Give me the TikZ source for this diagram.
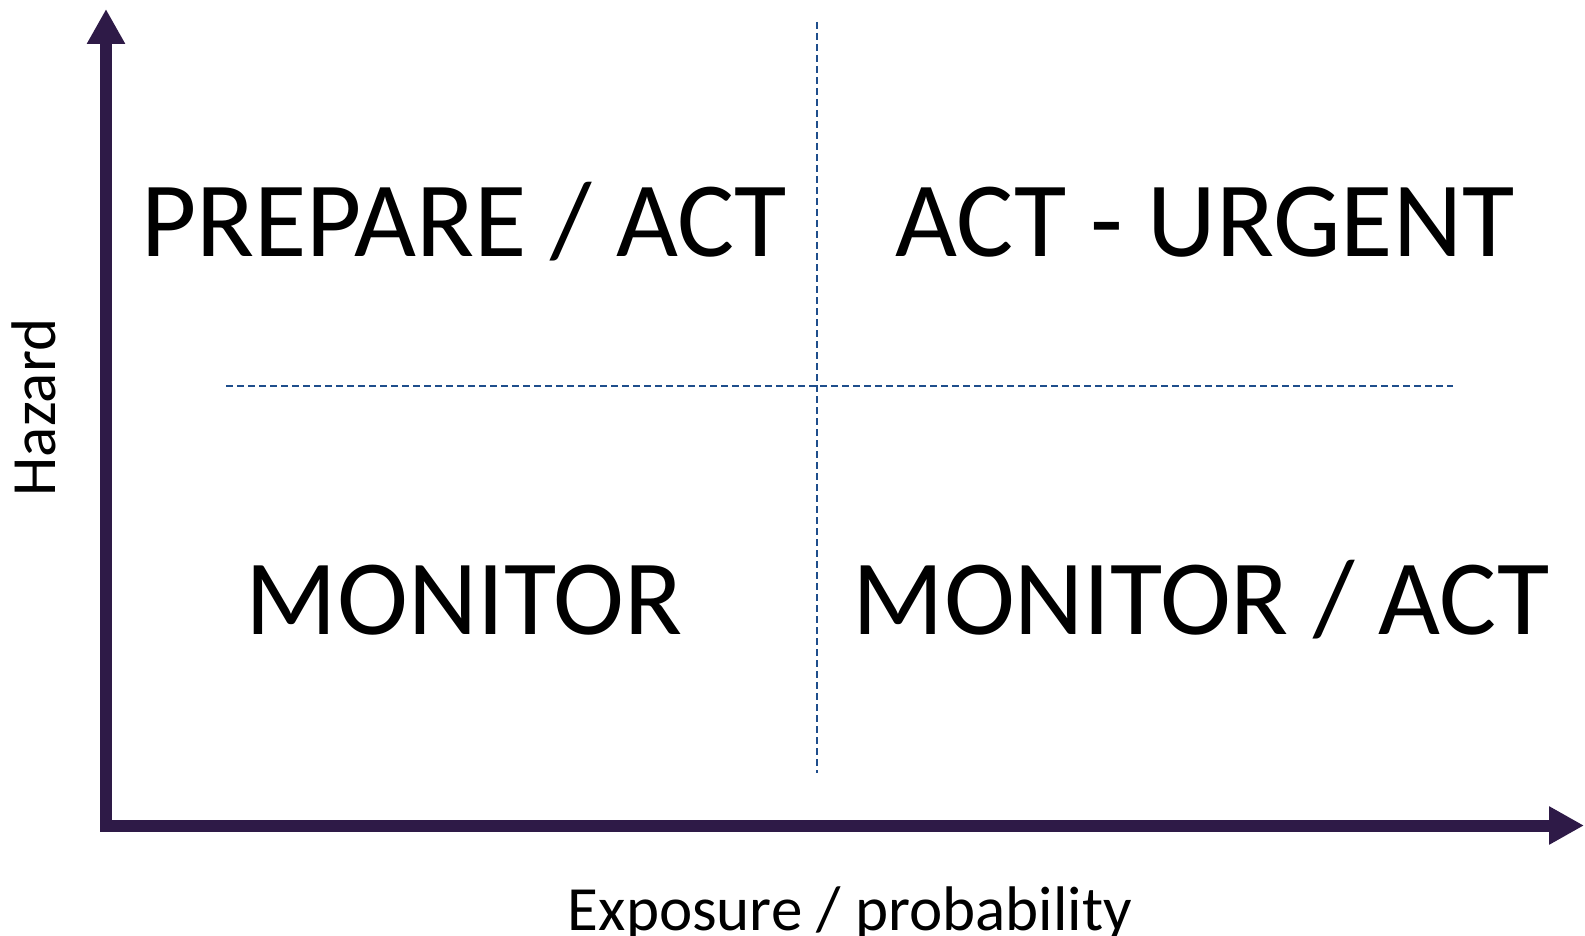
\documentclass[tikz,border=0pt]{standalone}
\usepackage{fontspec}
\setmainfont{Carlito}
\usetikzlibrary{arrows.meta}
\definecolor{axiscol}{RGB}{46,26,71}
\definecolor{dashcol}{RGB}{31,78,140}
\tikzset{
  axis/.style={draw=axiscol, line width=12pt, -{Triangle[length=35pt,width=36pt]}},
  divider/.style={draw=dashcol, line width=1.6pt, dash pattern=on 7pt off 4pt},
  big/.style={font=\fontsize{107}{107}\selectfont, anchor=base, inner sep=0pt},
  lab/.style={font=\fontsize{63}{63}\selectfont, anchor=base, inner sep=0pt}
}
\begin{document}
\begin{tikzpicture}[x=1pt,y=-1pt]
\useasboundingbox (0,0) rectangle (1585,936);
\coordinate (yb) at (106,831);
\coordinate (yt) at (106,9);
\coordinate (xl) at (100,825.5);
\coordinate (xr) at (1584,825.5);
\coordinate (vt) at (817,22);
\coordinate (vb) at (817,773);
\coordinate (hl) at (226,386);
\coordinate (hr) at (1453,386);
\draw[divider] (vt) -- (vb);
\draw[divider] (hl) -- (hr);
\draw[axis] (yb) -- (yt);
\draw[axis] (xl) -- (xr);
\node[big] (pa) at (464,256) {PREPARE / ACT};
\node[big] (au) at (1205,256) {ACT - URGENT};
\node[big] (mo) at (464,634) {MONITOR};
\node[big] (ma) at (1201,634) {MONITOR / ACT};
\node[lab, rotate=90] (hz) at (55,407.5) {Hazard};
\node[lab] (ex) at (850,930) {Exposure / probability};
\end{tikzpicture}
\end{document}
